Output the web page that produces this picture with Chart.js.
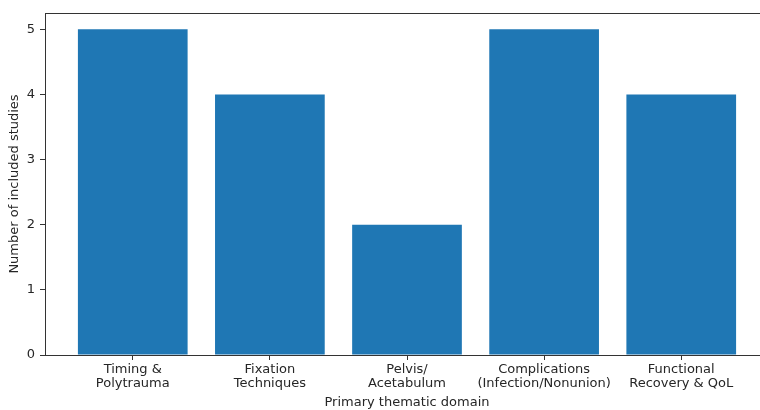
<!DOCTYPE html>
<html>
<head>
<meta charset="utf-8">
<script src="https://cdn.jsdelivr.net/npm/chart.js@4"></script>
<style>
  html, body { margin: 0; padding: 0; background: #fff; overflow: hidden; }
  #wrap { width: 760px; height: 410px; overflow: hidden; }
</style>
</head>
<body>
<div id="wrap"><canvas id="domainChart" width="780" height="410"></canvas></div>
<script>
// data
const domains = [
  ["Timing &", "Polytrauma"],
  ["Fixation", "Techniques"],
  ["Pelvis/", "Acetabulum"],
  ["Complications", "(Infection/Nonunion)"],
  ["Functional", "Recovery & QoL"]
];
const studyCounts = [5, 4, 2, 5, 4];
const yTicks = [0, 1, 2, 3, 4, 5];

const FONT = { family: "'DejaVu Sans', sans-serif", size: 13 };
const TEXT = "#262626";
const AXIS = "#333";

// top/right spine like matplotlib
const frame = {
  id: "frame",
  afterDraw(chart) {
    const { ctx, chartArea: a } = chart;
    ctx.save();
    ctx.strokeStyle = AXIS;
    ctx.lineWidth = 1;
    ctx.strokeRect(Math.round(a.left) + 0.5, Math.round(a.top) + 0.5,
      Math.round(a.right - a.left), Math.round(a.bottom - a.top));
    ctx.restore();
  }
};

new Chart(document.getElementById("domainChart"), {
  type: "bar",
  data: {
    datasets: [{
      data: studyCounts.map((v, i) => ({ x: i, y: v })),
      backgroundColor: "#1f77b4",
      borderWidth: 0,
      barPercentage: 0.8,
      categoryPercentage: 1.0
    }]
  },
  options: {
    responsive: false,
    devicePixelRatio: 1,
    animation: false,
    layout: { padding: { top: 13, right: 11, left: 0, bottom: 0 } },
    plugins: { legend: { display: false }, tooltip: { enabled: false } },
    scales: {
      x: {
        type: "linear",
        min: -0.64,
        max: 4.64,
        offset: false,
        afterBuildTicks: (s) => { s.ticks = domains.map((d, i) => ({ value: i })); },
        afterFit: (s) => { s.height = 55; },
        ticks: {
          callback: (v) => domains[v],
          font: { ...FONT, lineHeight: 1.1 },
          color: TEXT,
          padding: 2,
          maxRotation: 0,
          autoSkip: false
        },
        grid: { offset: false, drawOnChartArea: false, tickLength: 5, color: AXIS },
        border: { color: AXIS },
        title: {
          display: true,
          text: "Primary thematic domain",
          font: FONT,
          color: TEXT,
          padding: { top: 0, bottom: 0 }
        }
      },
      y: {
        min: 0,
        max: 5.25,
        afterBuildTicks: (s) => { s.ticks = yTicks.map(v => ({ value: v })); },
        afterFit: (s) => { s.width = 45; },
        ticks: { font: FONT, color: TEXT, padding: 5 },
        grid: { drawOnChartArea: false, tickLength: 5, color: AXIS },
        border: { color: AXIS },
        title: {
          display: true,
          text: "Number of included studies",
          font: FONT,
          color: TEXT,
          padding: { top: 7, bottom: 0 }
        }
      }
    }
  },
  plugins: [frame]
});
</script>
</body>
</html>
